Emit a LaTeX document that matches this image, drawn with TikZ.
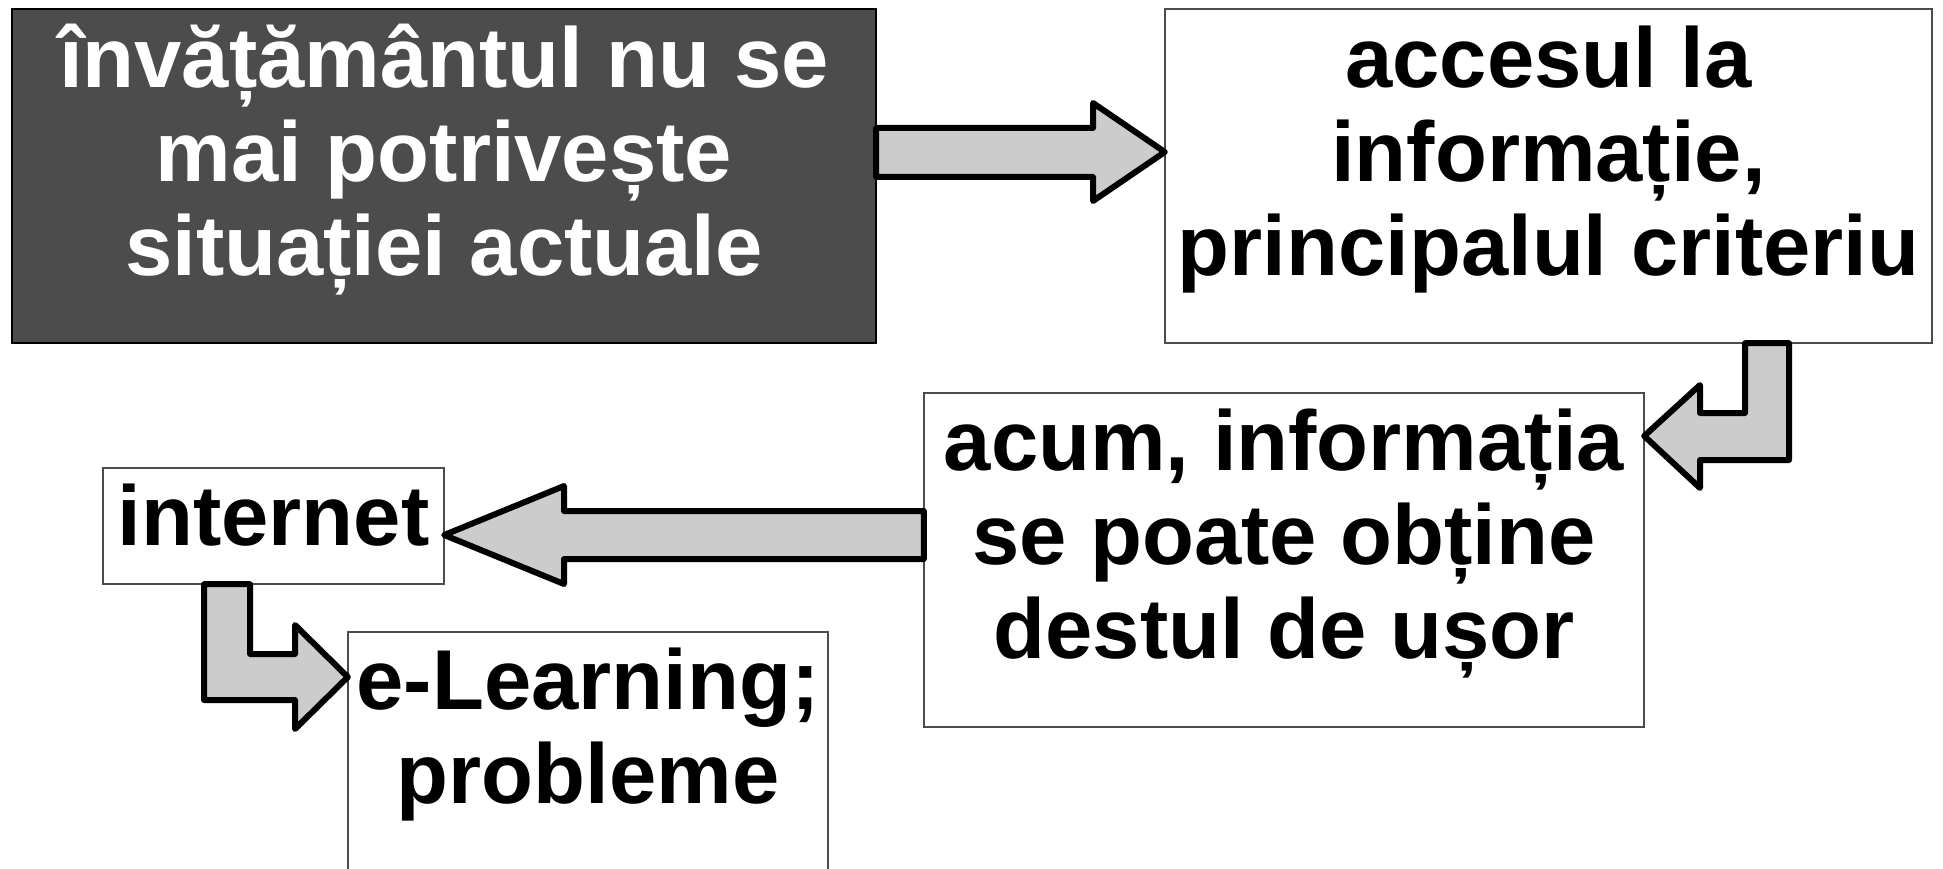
\documentclass[tikz,border=0pt]{standalone}
\usepackage{fontspec}
\setmainfont{Liberation Sans}
\begin{document}
\begin{tikzpicture}[x=1pt,y=-1pt,
  box/.style={draw=black!70,line width=1.2pt,fill=white},
  darkbox/.style={draw=black,line width=1.2pt,fill=black!70},
  txt/.style={inner sep=0pt,align=center,anchor=base,
    font=\fontsize{85}{94}\selectfont\bfseries},
  blockarrow/.style={draw=black,fill=black!20,line width=6pt,line join=round}]
\useasboundingbox (0,0) rectangle (1943,869);
\fill[white] (0,0) rectangle (1943,869);
% boxes
\path[darkbox] (12,9) rectangle (876,343);
\node[inner sep=0pt,minimum width=864pt,minimum height=334pt] (b1) at (444,176) {};
\path[box] (1165,9) rectangle (1932,343);
\node[inner sep=0pt,minimum width=767pt,minimum height=334pt] (b2) at (1548.5,176) {};
\path[box] (924,393) rectangle (1644,727);
\node[inner sep=0pt,minimum width=720pt,minimum height=334pt] (b3) at (1284,560) {};
\path[box] (103,468) rectangle (444,584);
\node[inner sep=0pt,minimum width=341pt,minimum height=116pt] (b4) at (273.5,526) {};
\path[box] (348,632) rectangle (828,900);
\node[inner sep=0pt,minimum width=480pt,minimum height=268pt] (b5) at (588,766) {};
% texts (base anchor = baseline of last line)
\node[txt,text=white] (t1) at (444,275) {învățământul nu se\\mai potrivește\\situației actuale};
\node[txt] (t2) at (1548.5,275) {accesul la\\informație,\\principalul criteriu};
\node[txt] (t3) at (1284,658) {acum, informația\\se poate obține\\destul de ușor};
\node[txt] (t4) at (273.5,545) {internet};
\node[txt] (t5) at (588,803) {e-Learning;\\probleme};
% arrows
\draw[blockarrow] (b1.east |- 0,128) -- (1093,128) -- (1093,103) -- (b2.west |- 0,152)
  -- (1093,201) -- (1093,177) -- (b1.east |- 0,177) -- cycle;
\draw[blockarrow] (1745,0 |- b2.south) -- (1789,0 |- b2.south) -- (1789,460) -- (1700,460)
  -- (1700,488) -- (b3.east |- 0,436) -- (1700,385) -- (1700,413) -- (1745,413) -- cycle;
\draw[blockarrow] (b3.west |- 0,511) -- (564,511) -- (564,486) -- (b4.east |- 0,535)
  -- (564,584) -- (564,559) -- (b3.west |- 0,559) -- cycle;
\draw[blockarrow] (204,0 |- b4.south) -- (250,0 |- b4.south) -- (250,654) -- (295,654)
  -- (295,625) -- (b5.west |- 0,677) -- (295,729) -- (295,700) -- (204,700) -- cycle;
\end{tikzpicture}
\end{document}
